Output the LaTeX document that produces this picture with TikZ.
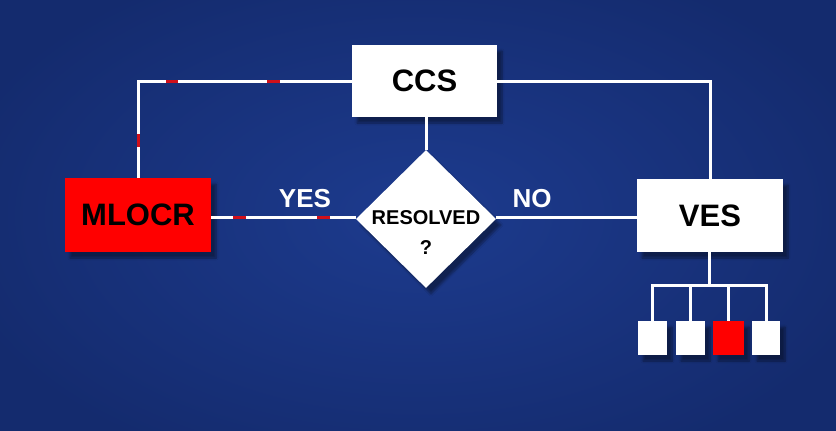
\documentclass[tikz,border=0pt]{standalone}
\usepackage{fontspec}
\setmainfont{Liberation Sans}
\usetikzlibrary{shapes.geometric,shadows.blur}
\definecolor{bgin}{HTML}{1D3B8E}
\definecolor{bgout}{HTML}{142B6E}
\definecolor{redbox}{HTML}{FF0000}
\definecolor{dashred}{HTML}{D0101A}
\begin{document}
\begin{tikzpicture}[x=1pt,y=-1pt,
  conn/.style={draw=white,line width=3pt},
  redmark/.style={draw=dashred,line width=3pt},
  whitebox/.style={draw=none,fill=white,inner sep=0pt,blur shadow={shadow xshift=5pt,shadow yshift=-6pt,shadow opacity=40,shadow blur steps=8}},
  redbox/.style={whitebox,fill=redbox},
  lbl/.style={font=\fontsize{31}{31}\selectfont\bfseries,text=black},
  yesno/.style={font=\fontsize{26}{26}\selectfont\bfseries,text=white}]
\clip (0,0) rectangle (836,431);
\shade[inner color=bgin,outer color=bgout] (-60,-60) rectangle (896,491);
% boxes
\node[whitebox,minimum width=145pt,minimum height=72pt,lbl] (ccs) at (424.5,81) {CCS};
\node[redbox,minimum width=146pt,minimum height=74pt,lbl] (mlocr) at (138,215) {MLOCR};
\node[whitebox,minimum width=146pt,minimum height=73pt,lbl] (ves) at (710,215.5) {VES};
\node[whitebox,diamond,minimum width=140pt,minimum height=138pt,aspect=1] (res) at (426,219) {};
\node[font=\fontsize{20}{20}\selectfont\bfseries] (restext) at (426,218) {RESOLVED};
\node[font=\fontsize{20}{20}\selectfont\bfseries] (q) at (426,248) {?};
% small boxes
\node[whitebox,minimum width=29pt,minimum height=34pt] (s1) at (652.5,338) {};
\node[whitebox,minimum width=29pt,minimum height=34pt] (s2) at (690.5,338) {};
\node[redbox,minimum width=31pt,minimum height=34pt] (s3) at (728.5,338) {};
\node[whitebox,minimum width=28pt,minimum height=34pt] (s4) at (766,338) {};
\coordinate (tl) at (138,81);
\coordinate (tr) at (710,81);
\coordinate (tj) at (709,285);
% connectors
\draw[conn] (mlocr.north) -- (tl) -- (ccs.west);
\draw[conn] (ccs.east) -- (tr) -- (ves.north);
\draw[conn] (res.north |- ccs.south) -- (res.north);
\draw[conn] (mlocr.east |- 0,217) -- (res.west |- 0,217);
\draw[conn] (res.east |- 0,217) -- (ves.west |- 0,217);
\draw[conn] (ves.south -| tj) -- (tj);
\draw[conn] (s1.north) |- (tj) -| (s4.north);
\draw[conn] (s2.north) -- (s2.north |- tj);
\draw[conn] (s3.north) -- (s3.north |- tj);
% red marks
\draw[redmark] (166,81) -- (178,81);
\draw[redmark] (267,81) -- (280,81);
\draw[redmark] (138,134) -- (138,147);
\draw[redmark] (233,217) -- (246,217);
\draw[redmark] (317,217) -- (330,217);
% labels
\node[yesno] (yes) at (305,199) {YES};
\node[yesno] (no) at (532,199) {NO};
% boxes again on top of lines
\node[fill=white,inner sep=0pt,minimum width=145pt,minimum height=72pt,lbl] at (ccs) {CCS};
\node[fill=redbox,inner sep=0pt,minimum width=146pt,minimum height=74pt,lbl] at (mlocr) {MLOCR};
\node[fill=white,inner sep=0pt,minimum width=146pt,minimum height=73pt,lbl] at (ves) {VES};
\end{tikzpicture}
\end{document}
